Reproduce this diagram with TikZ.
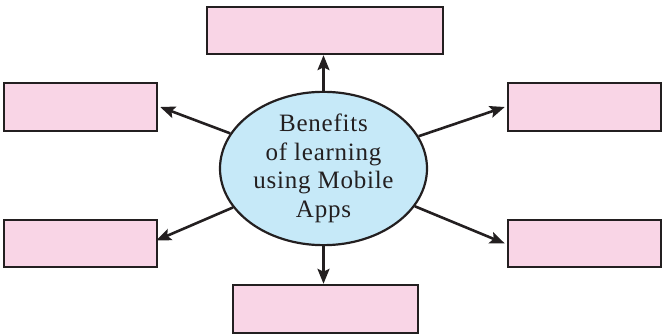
\documentclass[tikz,border=0pt]{standalone}
\usepackage{fontspec}
\setmainfont{Liberation Serif}
\usepackage{tikz}
\usetikzlibrary{arrows.meta,shapes.geometric}
\definecolor{boxpink}{RGB}{249,213,230}
\definecolor{hubblue}{RGB}{198,233,248}
\definecolor{inkdark}{RGB}{35,31,32}
\begin{document}
\begin{tikzpicture}[
    x=1pt, y=-1pt,
    every node/.style={text=inkdark},
    benefit/.style={rectangle, draw=inkdark, fill=boxpink,
        line width=2.4pt, inner sep=0pt},
    hub/.style={ellipse, draw=inkdark, fill=hubblue, line width=2.2pt,
        minimum width=207pt, minimum height=137pt, inner sep=0pt,
        align=center,
        font=\addfontfeatures{LetterSpace=3}\fontsize{25}{28.5}\selectfont},
    spoke/.style={draw=inkdark, line width=2.6pt,
        -{Stealth[length=15pt, width=12pt, inset=3pt]}}
]
\useasboundingbox (0,0) rectangle (662,336);
\node[hub] (hub) at (323.5,168.5)
    {Benefits\\of learning\\using Mobile\\Apps};
\node[benefit, minimum width=236pt, minimum height=47pt]
    (btop) at (325,30.5) {};
\node[benefit, minimum width=153pt, minimum height=48pt]
    (bleftup) at (80.5,107) {};
\node[benefit, minimum width=153pt, minimum height=47pt]
    (bleftdown) at (80.5,243.5) {};
\node[benefit, minimum width=153pt, minimum height=48pt]
    (brightup) at (584.5,107) {};
\node[benefit, minimum width=153pt, minimum height=47pt]
    (brightdown) at (584.5,243.5) {};
\node[benefit, minimum width=185pt, minimum height=48pt]
    (bbottom) at (325.5,309) {};
\draw[spoke] (hub.north) -- (hub.north |- btop.south);
\draw[spoke] (hub.south) -- (hub.south |- bbottom.north);
\draw[spoke] (hub) -- ([xshift=2pt]bleftup.east);
\draw[spoke] (hub) -- ([xshift=-2pt, yshift=3pt]bleftdown.east);
\draw[spoke] (hub) -- ([xshift=-2pt]brightup.west);
\draw[spoke] (hub) -- ([xshift=-2pt]brightdown.west);
\end{tikzpicture}
\end{document}
